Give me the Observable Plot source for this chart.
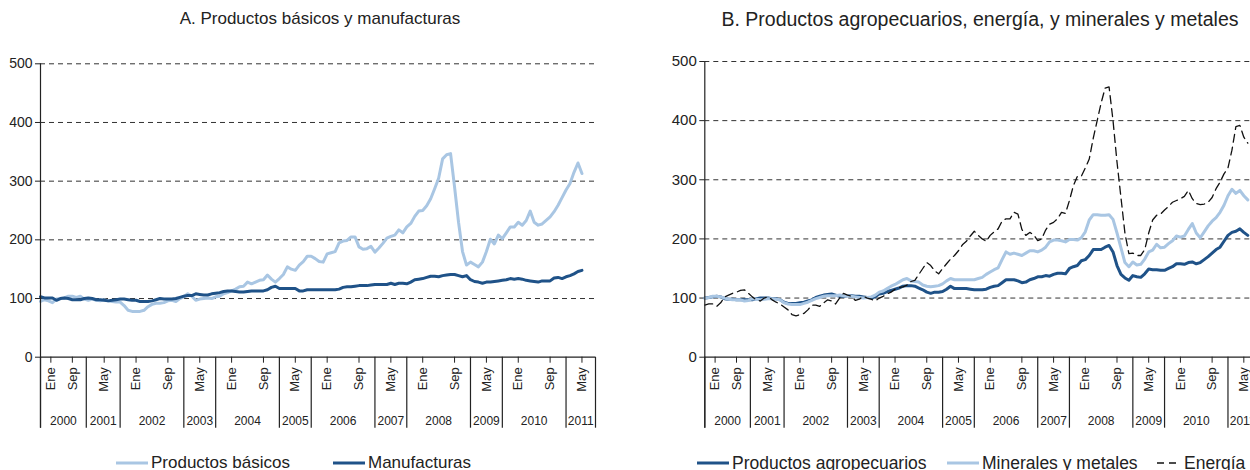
<!DOCTYPE html>
<html><head><meta charset="utf-8">
<script src="https://cdn.jsdelivr.net/npm/d3@7"></script>
<script src="https://cdn.jsdelivr.net/npm/@observablehq/plot@0.6"></script>
<style>
html,body{margin:0;padding:0;background:#fff;}
body{width:1250px;height:470px;position:relative;overflow:hidden;font-family:"Liberation Sans",Arial,sans-serif;color:#222;}
.title{position:absolute;top:9px;font-size:17px;white-space:nowrap;transform:translateX(-50%);}
.panel{position:absolute;top:40px;}
.panel svg{max-width:none !important;height:auto;}
.leg{position:absolute;top:454px;height:18px;display:flex;align-items:center;font-size:17px;white-space:nowrap;}
.leg svg{margin-right:3px;}
</style>
</head><body>
<div class="title" style="left:320px">A. Productos básicos y manufacturas</div>
<div class="title" style="left:980px;font-size:19.5px;top:8px">B. Productos agropecuarios, energía, y minerales y metales</div>
<div id="pa" class="panel" style="left:0px;width:625px"></div>
<div id="pb" class="panel" style="left:650px;width:610px"></div>
<div id="legA1" class="leg" style="left:116px"></div>
<div id="legA2" class="leg" style="left:333px"></div>
<div id="legB1" class="leg" style="left:697px;font-size:17.5px"></div>
<div id="legB2" class="leg" style="left:947px;font-size:17.5px"></div>
<div id="legB3" class="leg" style="left:1157px;font-size:17.5px"></div>
<script>
// Monthly series, index 0 = Ene 2000
const basicos = [95,98,96,93,99,100,101,104,104,102,104,99,97,99,97,96,98,96,95,94,94,88,80,78,78,78,80,86,90,92,92,93,96,97,95,100,103,108,104,97,99,100,101,100,103,104,108,110,113,116,120,121,128,125,128,131,132,140,133,128,134,141,154,150,148,157,163,172,172,168,163,162,176,178,180,195,198,199,205,205,188,184,185,189,179,186,194,203,206,208,217,212,222,228,240,249,250,258,270,287,305,338,345,347,290,230,180,157,162,158,154,162,180,201,193,208,202,212,222,222,230,225,233,249,230,225,227,233,239,248,259,272,285,296,315,331,313];
const manufacturas = [103,101,101,101,97,100,101,100,98,98,98,100,101,100,98,98,97,96,97,98,99,99,98,97,97,95,95,95,96,98,100,99,99,99,100,102,104,105,105,108,107,106,106,108,109,110,112,113,113,112,111,111,112,113,113,113,113,115,119,121,117,117,117,117,117,113,113,115,115,115,115,115,115,115,115,116,119,120,120,121,122,122,122,123,124,124,124,124,126,124,126,126,125,128,132,133,134,136,138,138,137,139,140,141,141,139,137,139,132,129,128,126,128,128,129,130,131,132,134,133,134,133,131,130,129,128,130,130,130,135,136,134,137,139,142,146,148];
const agropecuarios = [100,101,102,103,102,99,98,98,97,97,97,97,97,99,100,100,100,99,99,97,93,91,91,91,92,93,95,97,101,103,105,106,107,105,103,103,104,104,103,103,102,101,100,102,107,108,111,113,115,117,120,121,121,120,117,114,110,108,110,110,111,115,120,116,116,116,116,115,114,114,114,115,118,120,121,126,131,131,131,129,126,127,131,133,136,136,138,137,140,142,142,141,150,153,155,163,165,172,182,182,182,186,189,178,155,140,134,130,138,136,135,141,149,148,148,147,147,150,153,158,158,157,160,161,158,160,165,170,176,182,186,196,206,211,213,217,211,206];
const minerales = [100,101,103,103,102,100,98,97,97,97,95,96,99,98,97,98,99,99,98,97,92,90,89,89,89,91,93,96,99,101,103,104,104,104,105,104,104,103,102,101,100,101,102,105,110,112,116,120,123,127,131,133,129,128,127,122,120,119,120,121,124,129,133,131,131,131,131,131,131,133,135,140,144,148,151,165,178,174,176,174,172,176,180,180,178,181,186,195,198,198,197,195,199,199,198,202,212,232,241,241,240,240,241,233,210,185,160,153,161,156,157,166,178,181,191,185,186,192,197,205,203,205,216,226,210,202,212,222,230,236,245,257,273,284,277,282,273,266];
const energia = [88,90,90,86,92,102,105,108,110,113,114,108,102,97,95,100,102,97,93,90,85,80,72,70,72,74,80,88,88,86,92,97,95,90,100,108,105,103,96,98,103,100,98,95,100,103,107,110,115,118,119,122,128,130,140,150,160,155,146,141,150,158,166,172,180,190,196,205,213,206,200,196,206,212,217,230,234,234,245,242,216,206,211,207,197,200,215,225,228,234,245,243,265,290,306,306,320,335,370,400,430,455,457,400,330,270,210,175,176,172,172,182,210,232,240,242,249,255,262,265,268,272,282,268,260,258,259,262,270,285,296,310,320,350,390,392,372,362];

// Axis categories (month index of each labelled tick) and year groups
const monthTickIdx = [2.6,8,16,24,32,40,48,56,64,72,80,88,96,104,112,120,128,136];
const monthTickLab = ["Ene","Sep","May","Ene","Sep","May","Ene","Sep","May","Ene","Sep","May","Ene","Sep","May","Ene","Sep","May"];
const yearLab = ["2000","2001","2002","2003","2004","2005","2006","2007","2008","2009","2010","2011"];
const yearStart = [0,11.5,20,36,44,60,68,84,92,108,116,132];
const yearEnd   = [11.5,20,36,44,60,68,84,92,108,116,132,139.4];
const yTicks = [0,100,200,300,400,500];
const gridVals = [100,200,300,400,500];

const LIGHT = "#a9c6e3", DARK = "#1f5288", FONT = "'Liberation Sans', Arial, sans-serif";
const ticks = monthTickIdx.map((v,k)=>({v, lab: monthTickLab[k]}));
const years = yearLab.map((y,k)=>({y, mid:(yearStart[k]+yearEnd[k])/2}));
const seps = yearStart.concat([yearEnd[yearEnd.length-1]]);

function rows(arr){ return arr.map((v,i)=>({i, v})); }

function panel(series, opts){
  return Plot.plot({
    width: opts.width, height: 400,
    marginLeft: opts.ml, marginRight: opts.mr, marginTop: opts.mt, marginBottom: 400-316.7,
    x: {domain: [0, 139.4], axis: null},
    y: {domain: [0, 500], axis: null},
    style: {fontFamily: FONT, background: "transparent", color: "#222", overflow: "visible", maxWidth: "none"},
    marks: [
      Plot.ruleY(gridVals, {stroke: "#333", strokeDasharray: "5,4", strokeWidth: 1}),
      Plot.axisY({ticks: yTicks, tickSize: 5, tickPadding: 3, fontSize: opts.yfs, label: null, stroke: "#222"}),
      ...series.map(s => Plot.line(rows(s.data), {x: "i", y: "v", stroke: s.color, strokeWidth: s.w, strokeDasharray: s.dash, curve: "linear"})),
      Plot.ruleY([0], {stroke: "#222", strokeWidth: 1.2}),
      Plot.ruleX([0], {y1: 500, y2: 0, insetBottom: -71, stroke: "#222", strokeWidth: 1.2}),
      Plot.ruleX(seps, {y1: 0, y2: 0, insetBottom: -71, stroke: "#222", strokeWidth: 1.2}),
      Plot.ruleX(ticks, {x: "v", y1: 0, y2: 0, insetBottom: -6, stroke: "#222"}),
      Plot.text(ticks, {x: "v", y: 0, text: "lab", rotate: -90, textAnchor: "end", dy: 10, fontSize: 13, fill: "#222"}),
      Plot.text(years, {x: "mid", y: 0, text: "y", dy: 64, fontSize: 12, fill: "#222"})
    ]
  });
}

document.getElementById("pa").append(panel([
  {data: basicos, color: LIGHT, w: 3},
  {data: manufacturas, color: DARK, w: 3}
], {width: 625, ml: 40, mr: 30, mt: 23.3, yfs: 14}));

document.getElementById("pb").append(panel([
  {data: agropecuarios, color: DARK, w: 3},
  {data: minerales, color: LIGHT, w: 3},
  {data: energia, color: "#111", w: 1.3, dash: "8,5"}
], {width: 610, ml: 54.3, mr: 3.2, mt: 21, yfs: 15}));

function legend(id, label, color, w, dash, len){
  const el = document.getElementById(id);
  el.innerHTML = `<svg width="${len}" height="10"><line x1="0" x2="${len}" y1="5" y2="5" stroke="${color}" stroke-width="${w}" ${dash?`stroke-dasharray="${dash}"`:""}/></svg><span>${label}</span>`;
}
legend("legA1","Productos básicos",LIGHT,3,null,32);
legend("legA2","Manufacturas",DARK,3,null,32);
legend("legB1","Productos agropecuarios",DARK,3,null,32);
legend("legB2","Minerales y metales",LIGHT,3,null,32);
legend("legB3","Energía","#111",1.3,"7,5",24);
</script>
</body></html>
